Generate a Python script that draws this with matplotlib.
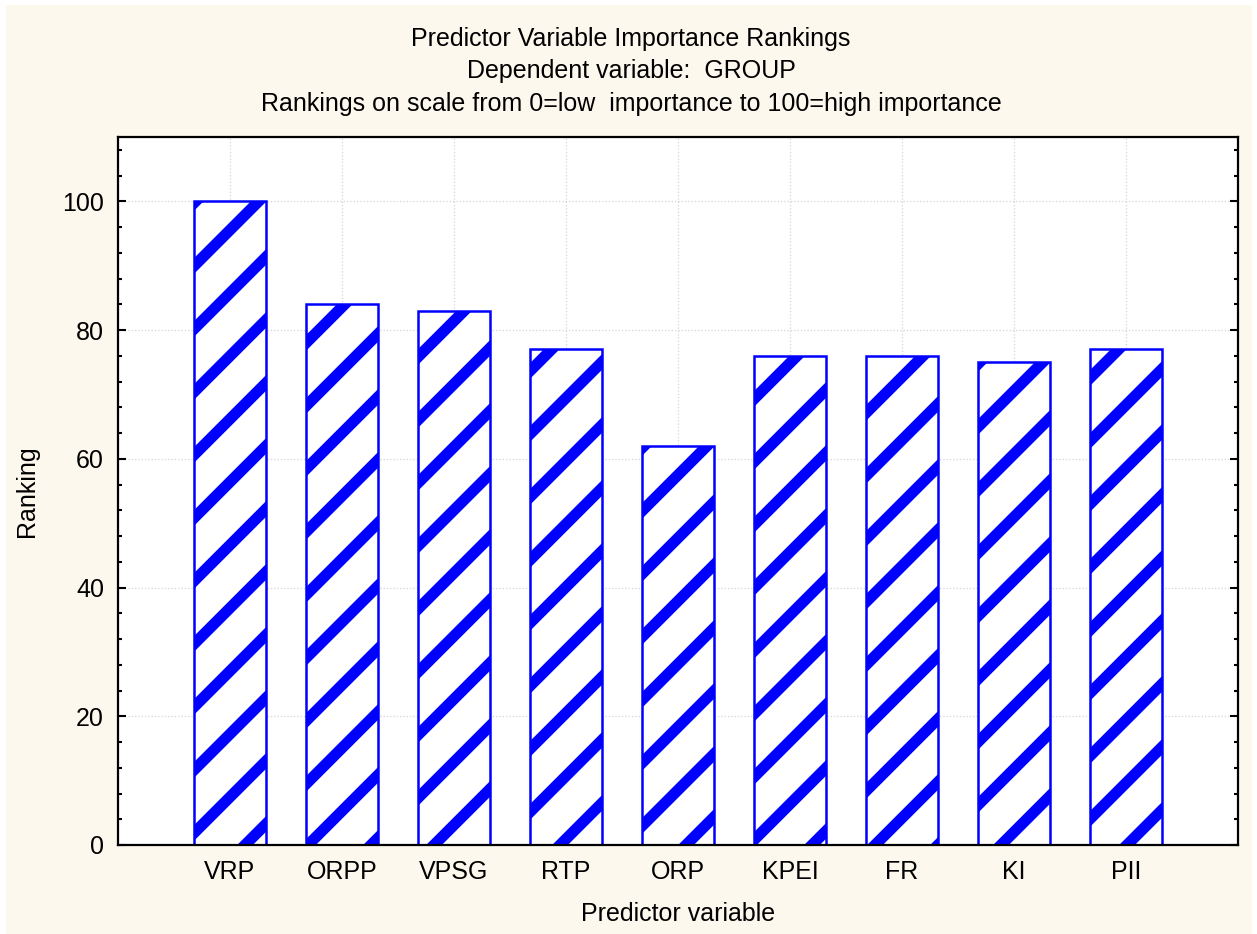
import numpy as np
import matplotlib
matplotlib.use("Agg")
import matplotlib.pyplot as plt
from matplotlib.patches import Rectangle
from matplotlib.lines import Line2D
from matplotlib.transforms import IdentityTransform

plt.rcParams['font.family'] = ['Liberation Sans', 'DejaVu Sans']

# data
predictors = ["VRP", "ORPP", "VPSG", "RTP", "ORP", "KPEI", "FR", "KI", "PII"]
ranking = [100, 84, 83, 77, 62, 76, 76, 75, 77]

W, H = 1257, 934
bg = "#fdf8ed"
blue = "#0000ff"
fs = 18

fig = plt.figure(figsize=(W / 100, H / 100), dpi=100, facecolor="white")
# cream panel with thin white border
fig.patches.append(Rectangle((6 / W, 0), (1252 - 6) / W, (H - 5) / H,
                             transform=fig.transFigure, facecolor=bg,
                             edgecolor="none", zorder=-10))

ax = fig.add_axes([118 / W, 1 - 845 / H, (1238 - 118) / W, (845 - 137) / H])
ax.set_facecolor("white")
x = np.arange(1, len(predictors) + 1)
ax.set_xlim(0, len(predictors) + 1)
ax.set_ylim(0, 110)

bars = ax.bar(x, ranking, width=0.64, facecolor="white", edgecolor="none", zorder=2)
ax.bar(x, ranking, width=0.64, facecolor="none", edgecolor=blue, linewidth=1.8, zorder=4)

# diagonal stripes (pixel space, 45 deg, fixed spacing) clipped to each bar
step = 63
off = 33
for r in bars:
    bb = r.get_window_extent()
    kmin = int(np.floor((bb.y0 - bb.x1 - off) / step)) - 1
    kmax = int(np.ceil((bb.y1 - bb.x0 - off) / step)) + 1
    for k in range(kmin, kmax + 1):
        c = off + k * step
        xs = [bb.x0 - 10, bb.x1 + 10]
        ys = [xs[0] + c, xs[1] + c]
        ln = Line2D(xs, ys, transform=IdentityTransform(), color=blue,
                    linewidth=8.0, solid_capstyle="butt", zorder=3)
        ax.add_artist(ln)
        ln.set_clip_path(r.get_path(), r.get_transform())

ax.set_xticks(x)
ax.set_xticklabels(predictors, fontsize=fs)
ax.set_yticks(np.arange(0, 101, 20))
ax.set_yticks(np.arange(0, 111, 4), minor=True)
ax.tick_params(axis="y", which="both", direction="in", right=True, labelsize=fs, pad=10)
ax.tick_params(axis="y", which="major", length=6, width=1.5)
ax.tick_params(axis="y", which="minor", length=3, width=1.5)
ax.tick_params(axis="x", length=0, pad=11)
ax.tick_params(axis="x", which="minor", bottom=False)
ax.grid(True, which="major", color="#d4d4d4", linestyle=":", linewidth=0.9, zorder=0)
ax.set_axisbelow(True)
for s in ax.spines.values():
    s.set_linewidth(1.6)
    s.set_zorder(5)

ax.set_ylabel("Ranking", fontsize=fs, labelpad=17)
ax.set_xlabel("Predictor variable", fontsize=fs, labelpad=13)

fig.text(631 / W, 1 - 39 / H, "Predictor Variable Importance Rankings",
         ha="center", va="center", fontsize=fs)
fig.text(631 / W, 1 - 71 / H, "Dependent variable:  GROUP",
         ha="center", va="center", fontsize=fs)
fig.text(631 / W, 1 - 104 / H,
         "Rankings on scale from 0=low  importance to 100=high importance",
         ha="center", va="center", fontsize=fs)

fig.savefig("out.png", dpi=100, facecolor=fig.get_facecolor())
